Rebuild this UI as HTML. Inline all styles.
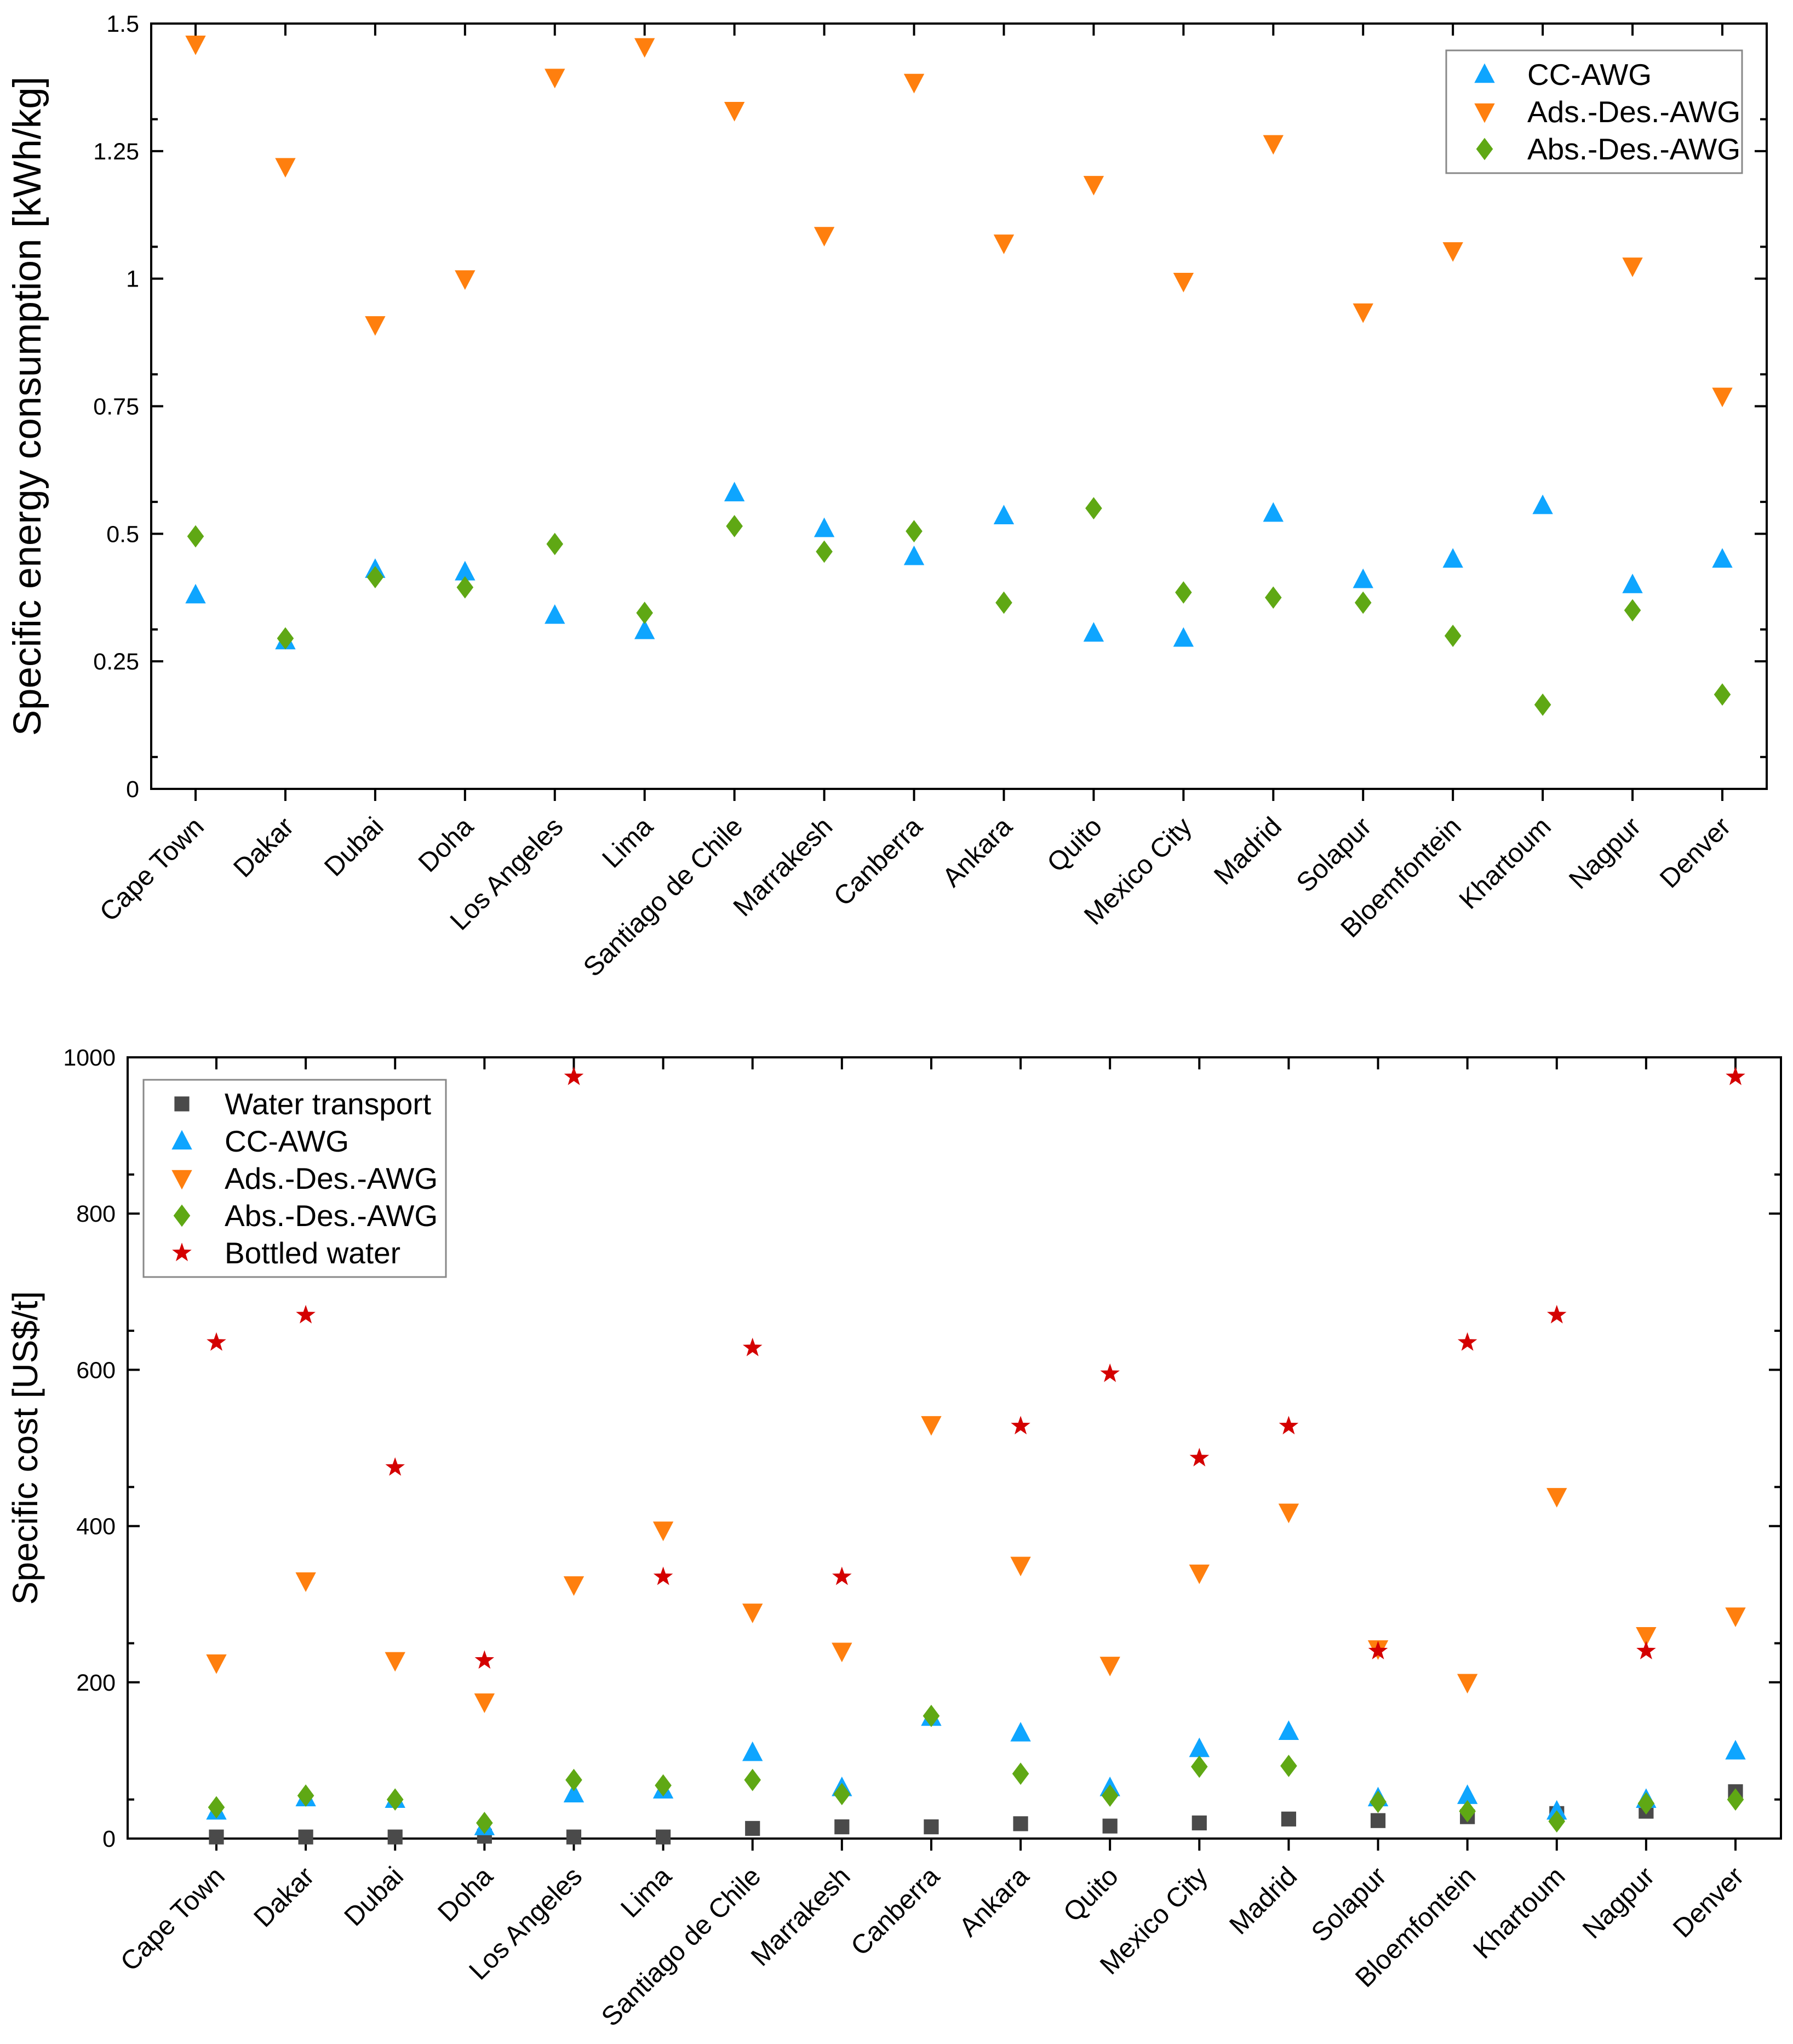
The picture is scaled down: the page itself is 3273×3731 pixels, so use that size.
<!DOCTYPE html>
<html><head><meta charset="utf-8"><style>
html,body{margin:0;padding:0;background:#fff;}
svg{display:block;font-family:"Liberation Sans",Arial,sans-serif;}
</style></head><body>
<svg id="c" width="3273" height="3731" xmlns="http://www.w3.org/2000/svg"></svg>
<script>
const cities=["Cape Town","Dakar","Dubai","Doha","Los Angeles","Lima","Santiago de Chile","Marrakesh","Canberra","Ankara","Quito","Mexico City","Madrid","Solapur","Bloemfontein","Khartoum","Nagpur","Denver"];
const eCC=[0.38,0.29,0.43,0.425,0.34,0.31,0.58,0.51,0.455,0.535,0.305,0.295,0.54,0.41,0.45,0.555,0.40,0.45];
const eAds=[1.46,1.22,0.91,1.0,1.395,1.455,1.33,1.085,1.385,1.07,1.185,0.995,1.265,0.935,1.055,null,1.025,0.77];
const eAbs=[0.495,0.295,0.415,0.395,0.48,0.345,0.515,0.465,0.505,0.365,0.55,0.385,0.375,0.365,0.30,0.165,0.35,0.185];
const eTicks=["0","0.25","0.5","0.75","1","1.25","1.5"];
const cWater=[2,2,2,3,2,2,13,15,15,19,16,20,25,23,28,32,35,60];
const cCC=[35,52,50,15,57,62,110,65,155,135,65,115,137,52,55,35,50,112];
const cAds=[225,330,228,175,325,395,290,240,530,350,222,340,418,243,200,438,260,285];
const cAbs=[40,55,50,20,75,68,75,57,157,83,55,92,93,47,35,22,45,50];
const cBottle=[635,670,475,228,975,335,628,335,null,528,595,487,528,240,635,670,240,975];
const cTicks=["0","200","400","600","800","1000"];

const NS="http://www.w3.org/2000/svg";
const svg=document.getElementById('c');
function el(t,a,p){const e=document.createElementNS(NS,t);for(const k in a)e.setAttribute(k,a[k]);(p||svg).appendChild(e);return e;}
const COL={cc:"#0ea5ff",ads:"#ff7f0e",abs:"#5fa814",water:"#4a4a4a",bottle:"#d40000"};
function marker(g,type,x,y,s){
  let e;
  if(type==='cc')e=el('polygon',{points:`${x},${y-s*0.6} ${x-s*0.55},${y+s*0.45} ${x+s*0.55},${y+s*0.45}`,fill:COL.cc},g);
  else if(type==='ads')e=el('polygon',{points:`${x},${y+s*0.6} ${x-s*0.55},${y-s*0.45} ${x+s*0.55},${y-s*0.45}`,fill:COL.ads},g);
  else if(type==='abs')e=el('polygon',{points:`${x},${y-s*0.6} ${x+s*0.45},${y} ${x},${y+s*0.6} ${x-s*0.45},${y}`,fill:COL.abs},g);
  else if(type==='water')e=el('rect',{x:x-s*0.4,y:y-s*0.4,width:s*0.8,height:s*0.8,fill:COL.water},g);
  else{let pts=[];for(let i=0;i<10;i++){const r=i%2?s*0.22:s*0.55;const a=-Math.PI/2+i*Math.PI/5;pts.push((x+r*Math.cos(a)).toFixed(1)+','+(y+r*Math.sin(a)).toFixed(1));}
    e=el('polygon',{points:pts.join(' '),fill:COL.bottle},g);}
  return e;
}
function chart(o){
  const g=el('g',{});
  
  
  const {L,R,T,B,x0,x1,ymax}=o;
  const X=i=>x0+(x1-x0)*i/(cities.length-1);
  const Y=v=>B-(B-T)*v/ymax;
  const fr=el('rect',{x:L,y:T,width:R-L,height:B-T,fill:'none',stroke:'#000','stroke-width':4},g);
  
  o.ticks.forEach((t,i)=>{
    const v=parseFloat(t);const y=Y(v);
    el('line',{x1:L,x2:L+22,y1:y,y2:y,stroke:'#000','stroke-width':4},g);
    el('line',{x1:R,x2:R-22,y1:y,y2:y,stroke:'#000','stroke-width':4},g);
    if(i<o.ticks.length-1){const ym=Y(v+o.step/2);
      el('line',{x1:L,x2:L+12,y1:ym,y2:ym,stroke:'#000','stroke-width':4},g);
      el('line',{x1:R,x2:R-12,y1:ym,y2:ym,stroke:'#000','stroke-width':4},g);}
    const tx=el('text',{x:L-22,y:y+15,'text-anchor':'end','font-size':43},g);tx.textContent=t;
    
  });
  cities.forEach((c,i)=>{
    const x=X(i);
    el('line',{x1:x,x2:x,y1:B,y2:B+22,stroke:'#000','stroke-width':4},g);
    el('line',{x1:x,x2:x,y1:T,y2:T+22,stroke:'#000','stroke-width':4},g);
    const tx=el('text',{x:x+18,y:B+72,'text-anchor':'end','font-size':49,transform:`rotate(-45 ${x+18} ${B+72})`},g);
    tx.textContent=c;
    
  });
  const yt=el('text',{x:0,y:0,'text-anchor':'middle','font-size':o.tfs,transform:`translate(${o.tx} ${(T+B)/2}) rotate(-90)`},g);
  yt.textContent=o.title;
  o.series.forEach(s=>{
    s.data.forEach((v,i)=>{ if(v==null)return;
      const m=marker(g,s.type,X(i),Y(v),34);
      
      
    });
  });
  const lg=el('g',{},g);
  
  el('rect',{x:o.lx,y:o.ly,width:o.lw,height:o.series.length*68+20,fill:'#fff',stroke:'#888','stroke-width':3},lg);
  o.series.forEach((s,k)=>{
    const cy=o.ly+44+k*68;
    marker(lg,s.type,o.lx+70,cy,34);
    const t=el('text',{x:o.lx+148,y:cy+19,'font-size':55},lg);t.textContent=s.label;
    
  });
}
chart({name:'energy-chart',L:276,R:3225,T:43,B:1440,x0:357,x1:3144,ymax:1.5,step:0.125,ticks:eTicks,tx:74,tfs:71,
  title:'Specific energy consumption [kWh/kg]',lx:2640,ly:92,lw:540,
  series:[{type:'cc',data:eCC,label:'CC-AWG'},{type:'ads',data:eAds,label:'Ads.-Des.-AWG'},{type:'abs',data:eAbs,label:'Abs.-Des.-AWG'}]});
chart({name:'cost-chart',L:233,R:3251,T:1930,B:3356,x0:395,x1:3168,ymax:1000,step:100,ticks:cTicks,tx:68,tfs:64,
  title:'Specific cost [US$/t]',lx:262,ly:1971,lw:552,
  series:[{type:'water',data:cWater,label:'Water transport'},{type:'cc',data:cCC,label:'CC-AWG'},{type:'ads',data:cAds,label:'Ads.-Des.-AWG'},{type:'abs',data:cAbs,label:'Abs.-Des.-AWG'},{type:'bottle',data:cBottle,label:'Bottled water'}]});
</script>
</body></html>
